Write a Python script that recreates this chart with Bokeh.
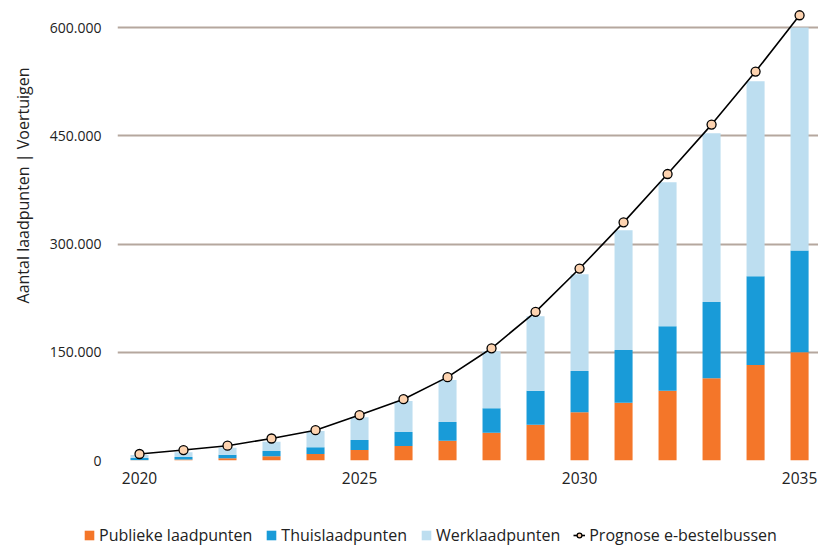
from bokeh.plotting import figure
from bokeh.layouts import column
from bokeh.models import Legend, LegendItem, FixedTicker, Title, ColumnDataSource, Range1d
from bokeh.embed import file_html
from bokeh.resources import INLINE

years = [2020, 2021, 2022, 2023, 2024, 2025, 2026, 2027, 2028, 2029, 2030, 2031, 2032, 2033, 2034, 2035]
publiek = [500, 1500, 3000, 6000, 9000, 14500, 20000, 27500, 38500, 49500, 67000, 80000, 96500, 114000, 132500, 150000]
thuis = [3100, 3500, 5000, 7000, 9500, 14000, 19500, 26000, 34000, 47000, 57000, 73000, 89500, 105500, 123000, 141000]
werk = [4000, 6500, 9700, 13000, 22500, 31500, 43000, 58000, 79000, 103500, 134000, 166000, 199500, 234000, 270000, 309000]
prognose = [9000, 14500, 20500, 30500, 42000, 63000, 85000, 115500, 155500, 206000, 266000, 330000, 397000, 465500, 539000, 617000]

series_names = ["Publieke laadpunten", "Thuislaadpunten", "Werklaadpunten"]
line_name = "Prognose e-bestelbussen"
x_ticks = [2020, 2025, 2030, 2035]
x_tick_labels = ["2020", "2025", "2030", "2035"]
y_ticks = [0, 150000, 300000, 450000, 600000]
y_tick_labels = ["0", "150.000", "300.000", "450.000", "600.000"]
y_title = "Aantal laadpunten | Voertuigen"

colors = ["#F47629", "#199BD8", "#BDDEF0"]
MARKER_FILL = "#FDD3B0"
FONT = "Open Sans"

src = ColumnDataSource(dict(x=years, publiek=publiek, thuis=thuis, werk=werk, prognose=prognose))

p = figure(width=818, height=500, output_backend="svg", toolbar_location=None,
           x_range=Range1d(2019.5, 2035.43), y_range=Range1d(0, 625000),
           min_border_left=115, min_border_right=0, min_border_top=9, min_border_bottom=40)
p.outline_line_color = None
p.background_fill_color = "white"

bars = p.vbar_stack(["publiek", "thuis", "werk"], x="x", width=0.41, source=src,
                    color=colors, line_color=None)
ln = p.line("x", "prognose", source=src, line_color="black", line_width=1.6)
pts = p.scatter("x", "prognose", source=src, size=9, marker="circle",
                fill_color=MARKER_FILL, line_color="black", line_width=1.3)

# axes
p.xaxis.ticker = FixedTicker(ticks=x_ticks)
p.xaxis.major_label_overrides = {t: l for t, l in zip(x_ticks, x_tick_labels)}
p.yaxis.ticker = FixedTicker(ticks=y_ticks)
p.yaxis.major_label_overrides = {t: l for t, l in zip(y_ticks, y_tick_labels)}
for ax in (p.xaxis[0], p.yaxis[0]):
    ax.axis_line_color = None
    ax.major_tick_line_color = None
    ax.minor_tick_line_color = None
    ax.major_label_text_font = FONT
    ax.major_label_text_color = "#222222"
p.xaxis.major_label_text_font_size = "15.5px"
p.yaxis.major_label_text_font_size = "14px"
p.xaxis.major_label_standoff = 5
p.yaxis.major_label_standoff = 10

p.xgrid.grid_line_color = None
p.ygrid.grid_line_color = "#B5A79E"
p.ygrid.grid_line_width = 2

t = Title(text=y_title, align="right", vertical_align="top", text_font=FONT,
          text_font_size="16px", text_font_style="normal", text_color="#222222",
          standoff=22, offset=58)
p.add_layout(t, "left")

# legend strip (separate figure so the legend can start left of the plot frame)
lg = figure(width=818, height=46, output_backend="svg", toolbar_location=None,
            x_range=Range1d(0, 1), y_range=Range1d(0, 1),
            x_axis_type=None, y_axis_type=None,
            min_border_left=0, min_border_right=0, min_border_top=0, min_border_bottom=0)
legend_x = 85
try:
    lg.frame_align = False
    p.frame_align = False
except Exception:
    legend_x = 85 - 115
lg.outline_line_color = None
lg.xgrid.grid_line_color = None
lg.ygrid.grid_line_color = None
dummy = ColumnDataSource(dict(x=[-5], y=[-5], top=[-5]))
d0 = lg.vbar(x="x", top="top", width=0.1, source=dummy, color=colors[0], line_color=None)
d1 = lg.vbar(x="x", top="top", width=0.1, source=dummy, color=colors[1], line_color=None)
d2 = lg.vbar(x="x", top="top", width=0.1, source=dummy, color=colors[2], line_color=None)
dl = lg.line(x="x", y="y", source=dummy, line_color="black", line_width=1.6)
ds = lg.scatter(x="x", y="y", source=dummy, size=9, marker="circle",
                fill_color=MARKER_FILL, line_color="black", line_width=1.3)

legend = Legend(items=[
    LegendItem(label=series_names[0], renderers=[d0]),
    LegendItem(label=series_names[1], renderers=[d1]),
    LegendItem(label=series_names[2], renderers=[d2]),
    LegendItem(label=line_name, renderers=[dl, ds]),
], orientation="horizontal", location=(legend_x - 2, 0), padding=0, margin=0, spacing=13,
    glyph_width=12, glyph_height=12, label_standoff=4,
    label_text_font=FONT, label_text_font_size="16px", label_text_color="#222222",
    border_line_color=None, background_fill_alpha=0)
lg.add_layout(legend, "center")

layout = column(p, lg, spacing=0)
open("out.html", "w").write(file_html(layout, INLINE))
